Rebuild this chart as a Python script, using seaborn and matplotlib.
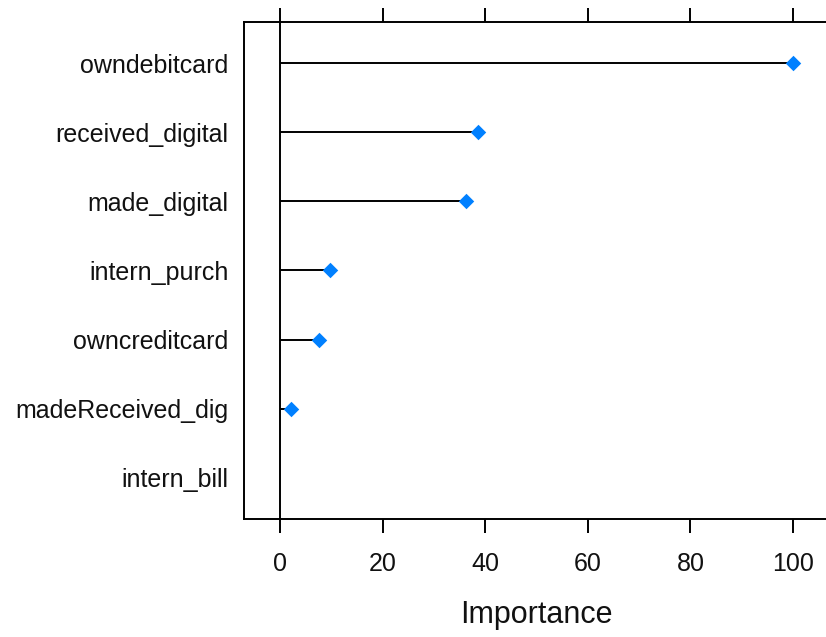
import numpy as np
import pandas as pd
import matplotlib
matplotlib.use("Agg")
import matplotlib.pyplot as plt
import seaborn as sns

# Variable importance (scaled 0-100)
features = ["owndebitcard", "received_digital", "made_digital", "intern_purch",
            "owncreditcard", "madeReceived_dig", "intern_bill"]
importance = [100.0, 38.6, 36.3, 9.7, 7.7, 2.2, 0.0]
x_ticks = [0, 20, 40, 60, 80, 100]

df = pd.DataFrame({"feature": features, "importance": importance})
df["row"] = np.arange(len(df), 0, -1)  # first feature on top

sns.set_style("white")
plt.rcParams["font.family"] = ["Liberation Sans", "DejaVu Sans"]

W, H = 826, 637
fig = plt.figure(figsize=(W / 100, H / 100), dpi=100)
left, right, top, bottom = 244, 829, 22, 519
ax = fig.add_axes([left / W, 1 - bottom / H, (right - left) / W, (bottom - top) / H])

dot_color = "#0080ff"
text_color = "#111111"
ax.axvline(0, color="black", lw=1.4, zorder=1)
ax.hlines(df["row"], 0, df["importance"], color="black", lw=1.4, zorder=2)
shown = df[df["importance"] > 0]
sns.scatterplot(data=shown, x="importance", y="row", marker="D", s=62,
                color=dot_color, edgecolor=dot_color, linewidth=0, ax=ax, zorder=3)

ax.set_xlim(-7, 107)
ax.set_ylim(0.4, len(df) + 0.6)
ax.set_xticks(x_ticks)
ax.set_xticklabels([str(t) for t in x_ticks])
ax.set_yticks(df["row"])
ax.set_yticklabels(df["feature"])

ax.tick_params(axis="x", which="both", direction="out", length=10, width=1.4,
               color="black", top=True, bottom=True, labeltop=False,
               labelbottom=True, labelsize=18, pad=14, labelcolor=text_color)
ax.tick_params(axis="y", length=0, labelsize=18, pad=11, labelcolor=text_color)

for side in ["left", "right", "top", "bottom"]:
    ax.spines[side].set_visible(True)
    ax.spines[side].set_color("black")
    ax.spines[side].set_linewidth(1.4)

ax.set_xlabel("Importance", fontsize=22, labelpad=17, color=text_color)
ax.set_ylabel("")

fig.savefig("out.png", dpi=100)
